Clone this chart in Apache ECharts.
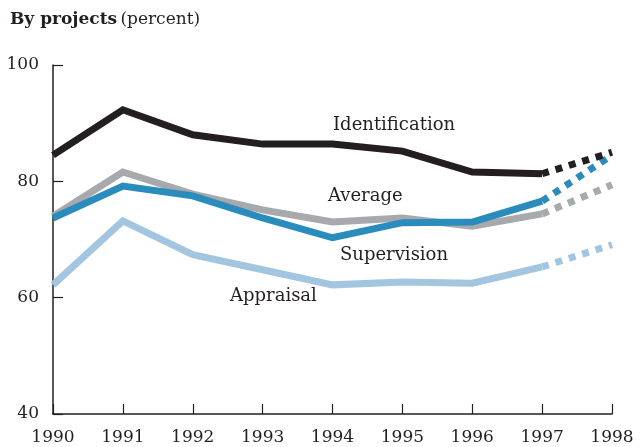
<!DOCTYPE html>
<html><head><meta charset="utf-8">
<script src="https://cdn.jsdelivr.net/npm/echarts@6/dist/echarts.min.js"></script>
<style>html,body{margin:0;padding:0;background:#fff}#c{width:640px;height:447px}</style>
</head><body><div id="c"></div>
<script>
const years = ['1990','1991','1992','1993','1994','1995','1996','1997','1998'];
const identification = [84.5, 92.3, 88.0, 86.4, 86.4, 85.2, 81.6, 81.3, 85.0];
const average        = [74.0, 81.6, 77.8, 75.1, 73.0, 73.7, 72.3, 74.4, 79.4];
const supervision    = [73.7, 79.2, 77.5, 73.7, 70.3, 72.9, 73.0, 76.6, 84.5];
const appraisal      = [62.2, 73.2, 67.4, 64.8, 62.2, 62.7, 62.5, 65.3, 69.1];
const yTicks = [40, 60, 80, 100];
const projectedFrom = 7; // index of 1997: segment to 1998 is projected (dotted)

const lines = [
  {name:'Appraisal', data:appraisal, color:'#a3c6e0'},
  {name:'Average', data:average, color:'#a7a9ac'},
  {name:'Supervision', data:supervision, color:'#2a8bbd'},
  {name:'Identification', data:identification, color:'#231f20'}
];
const series = [];
lines.forEach(l => {
  series.push({type:'line', name:l.name, data:l.data.map((v,i)=> i<=projectedFrom ? v : null),
    symbol:'none', lineStyle:{color:l.color, width:7, cap:'butt', join:'miter'}, z:2});
  series.push({type:'line', name:l.name+' proj', data:l.data.map((v,i)=> i>=projectedFrom ? v : null),
    symbol:'none', lineStyle:{color:l.color, width:7, type:[7,7], cap:'butt'}, z:2});
});
const serif = '"DejaVu Serif", "Liberation Serif", serif';
const chart = echarts.init(document.getElementById('c'));
chart.setOption({
  animation:false,
  grid:{left:53, right:28, top:65, bottom:33},
  xAxis:{type:'category', data:years, boundaryGap:false,
    axisLine:{lineStyle:{color:'#231f20', width:1.5}},
    axisTick:{inside:true, length:10, lineStyle:{color:'#231f20', width:1.2}},
    axisLabel:{color:'#231f20', fontFamily:serif, fontSize:17, margin:15, interval:0}},
  yAxis:{type:'value', min:40, max:100, interval:20,
    axisLine:{show:true, lineStyle:{color:'#231f20', width:1.5}},
    axisTick:{show:true, inside:true, length:10, lineStyle:{color:'#231f20', width:1.2}},
    splitLine:{show:false},
    axisLabel:{color:'#231f20', fontFamily:serif, fontSize:17, margin:14,
      formatter: v => yTicks.includes(v) ? String(v) : ''}},
  graphic:[
    {type:'text', left:10, top:11, style:{rich:{b:{fontFamily:serif, fontWeight:'bold', fontSize:17, fill:'#231f20'}, n:{fontFamily:serif, fontSize:17, fill:'#231f20'}}, text:'{b|By projects} {n|(percent)}'}},
    {type:'text', left:333, top:116, style:{text:'Identification', font:'18px '+serif, fill:'#231f20'}},
    {type:'text', left:328, top:187, style:{text:'Average', font:'18px '+serif, fill:'#231f20'}},
    {type:'text', left:340, top:246, style:{text:'Supervision', font:'18px '+serif, fill:'#231f20'}},
    {type:'text', left:230, top:287, style:{text:'Appraisal', font:'18px '+serif, fill:'#231f20'}}
  ],
  series: series
});
</script></body></html>
